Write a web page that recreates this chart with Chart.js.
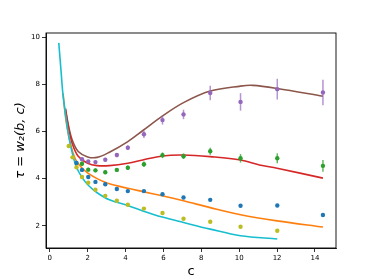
<!DOCTYPE html>
<html><head><meta charset="utf-8">
<script src="https://cdn.jsdelivr.net/npm/chart.js@4/dist/chart.umd.min.js"></script>
<style>html,body{margin:0;padding:0;background:#fff}</style>
</head><body>
<canvas id="c" width="374" height="280"></canvas>
<script>
// ---- data ----
const pointX = [1.0,1.2,1.41,1.70,2.03,2.41,2.93,3.54,4.12,4.97,5.95,7.06,8.47,10.07,12.01,14.42];
const oliveX = pointX.slice(0,15);
const oliveY = [5.38,4.90,4.48,4.07,3.83,3.53,3.27,3.06,2.89,2.73,2.54,2.30,2.17,1.96,1.79];
const blueX = pointX.slice(2);
const blueY = [4.66,4.37,4.07,3.86,3.76,3.56,3.47,3.47,3.34,3.20,3.10,2.85,2.86,2.46];
const blueErr = [0.03,0.03,0.03,0.03,0.03,0.03,0.03,0.03,0.03,0.04,0.04,0.04,0.05,0.06];
const greenX = pointX.slice(3);
const greenY = [4.63,4.38,4.35,4.27,4.37,4.46,4.61,4.99,4.95,5.16,4.86,4.86,4.54];
const greenErr = [0.08,0.08,0.08,0.08,0.08,0.10,0.12,0.12,0.12,0.15,0.18,0.21,0.25];
const purpleX = pointX.slice(3);
const purpleY = [4.82,4.73,4.70,4.80,5.00,5.31,5.88,6.48,6.72,7.63,7.25,7.79,7.65];
const purpleErr = [0.06,0.06,0.07,0.08,0.09,0.10,0.16,0.19,0.20,0.31,0.37,0.44,0.54];

const cyanX = [0.475,0.6,0.69,0.87,1.04,1.2,1.4,1.7,2.03,2.5,3.15,4.12,4.91,5.94,7.06,8.47,10.07,12.01];
const cyanY = [9.75,8.5,7.61,6.48,5.63,5.05,4.5,4.05,3.72,3.4,3.1,2.86,2.63,2.37,2.14,1.86,1.58,1.44];
const orangeX = [0.7,0.85,1.0,1.2,1.4,1.7,2.03,2.5,3.15,4.12,4.91,5.94,7.06,8.47,10.07,12.0,14.42];
const orangeY = [7.6,6.5,5.8,5.15,4.75,4.45,4.22,4.0,3.78,3.59,3.45,3.27,3.06,2.77,2.47,2.21,1.95];
const redX = [0.82,1.0,1.2,1.5,2.0,2.5,3.15,4.12,4.91,5.94,7.06,8.47,10.07,11.07,12.0,14.42];
const redY = [6.95,6.1,5.45,4.95,4.65,4.55,4.55,4.65,4.79,4.96,5.0,4.93,4.79,4.58,4.44,4.02];
const brownX = [0.83,1.0,1.2,1.5,2.0,2.5,3.15,4.12,4.93,5.94,7.06,8.47,10.07,10.72,12.01,14.42];
const brownY = [6.97,6.2,5.6,5.15,4.92,4.9,5.12,5.57,6.05,6.65,7.22,7.71,7.92,7.95,7.82,7.49];

const xTicks = [0,2,4,6,8,10,12,14];
const yTicks = [2,4,6,8,10];

// ---- build ----
const zip = (xs, ys) => xs.map((x,i)=>({x, y: ys[i]}));
const pts = (xs, ys, color, errs, errColor) => ({
  type:'scatter', data: zip(xs, ys), backgroundColor: color, borderWidth:0,
  pointRadius:2.2, pointHoverRadius:2.2, order:0, errs, errColor
});
const line = (xs, ys, color) => ({
  type:'line', data: zip(xs, ys), borderColor: color, borderWidth:1.6, pointRadius:0,
  tension:0.35, fill:false, order:1
});

const errPlugin = {
  id:'errbars',
  beforeDatasetDraw(chart, args){
    const ds = chart.data.datasets[args.index];
    if(!ds.errs) return;
    const {ctx, scales:{x, y}} = chart;
    ctx.save();
    ctx.strokeStyle = ds.errColor; ctx.lineWidth = 1.5;
    ds.data.forEach((p,i)=>{
      const e = ds.errs[i], px = x.getPixelForValue(p.x);
      ctx.beginPath();
      ctx.moveTo(px, y.getPixelForValue(p.y - e));
      ctx.lineTo(px, y.getPixelForValue(p.y + e));
      ctx.stroke();
    });
    ctx.restore();
  }
};
const framePlugin = {
  id:'frame',
  afterDraw(chart){
    const {ctx, chartArea:a} = chart;
    ctx.save(); ctx.strokeStyle='#000'; ctx.lineWidth=0.9;
    ctx.strokeRect(a.left, a.top, a.right-a.left, a.bottom-a.top);
    ctx.restore();
  }
};

const tickFont = {family:'DejaVu Sans', size:7};
new Chart(document.getElementById('c'), {
  data: { datasets: [
    line(cyanX, cyanY, '#17becf'),
    line(orangeX, orangeY, '#ff7f0e'),
    line(redX, redY, '#d62728'),
    line(brownX, brownY, '#8c564b'),
    pts(oliveX, oliveY, '#bcbd22'),
    pts(blueX, blueY, '#1f77b4', blueErr, 'rgba(31,119,180,0.7)'),
    pts(greenX, greenY, '#2ca02c', greenErr, 'rgba(44,160,44,0.75)'),
    pts(purpleX, purpleY, '#9467bd', purpleErr, 'rgba(148,103,189,0.7)')
  ]},
  options: {
    responsive:false, animation:false, devicePixelRatio:1,
    layout:{padding:{top:33, right:38, left:0, bottom:0}},
    plugins:{legend:{display:false}, tooltip:{enabled:false}},
    scales:{
      x:{ type:'linear', min:-0.2, max:15.11,
        afterBuildTicks: s => { s.ticks = xTicks.map(v=>({value:v})); },
        afterFit: s => { s.height = 32; },
        grid:{drawOnChartArea:false, drawTicks:true, tickLength:4, color:'#000', lineWidth:0.8},
        border:{display:true, color:'#000', width:0.9},
        ticks:{padding:2, font:tickFont, color:'#000', maxRotation:0, autoSkip:false, callback:v=>String(v)},
        title:{display:true, text:'c', font:{family:'DejaVu Sans', size:13}, color:'#000', padding:{top:0, bottom:1}}
      },
      y:{ type:'linear', min:1.06, max:10.17,
        afterBuildTicks: s => { s.ticks = yTicks.map(v=>({value:v})); },
        afterFit: s => { s.width = 46; },
        grid:{drawOnChartArea:false, drawTicks:true, tickLength:4, color:'#000', lineWidth:0.8},
        border:{display:true, color:'#000', width:0.9},
        ticks:{padding:2, font:tickFont, color:'#000', autoSkip:false, callback:v=>String(v)},
        title:{display:true, text:'τ = w₂(b, c)', font:{family:'DejaVu Sans', size:13, style:'italic'}, color:'#000', padding:{top:13, bottom:0}}
      }
    }
  },
  plugins:[errPlugin, framePlugin]
});
</script>
</body></html>
